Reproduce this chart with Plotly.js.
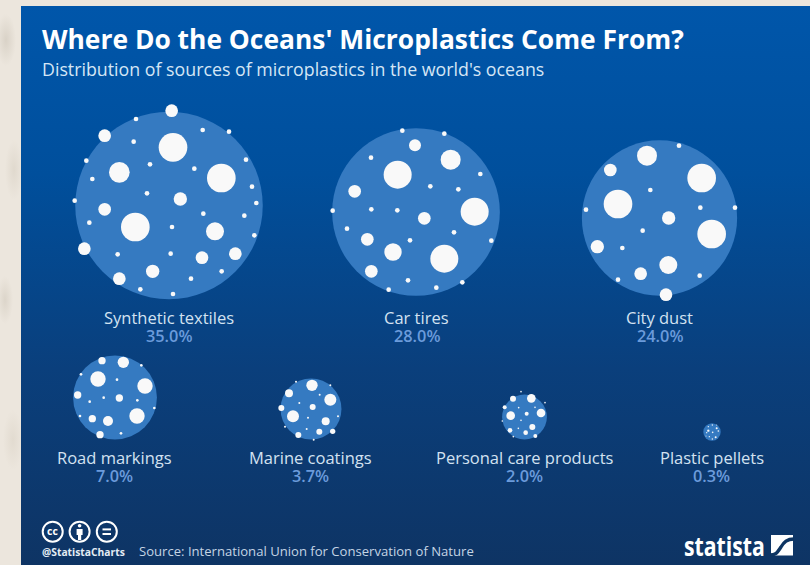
<!DOCTYPE html>
<html>
<head>
<meta charset="utf-8">
<script src="https://cdn.plot.ly/plotly-3.0.1.min.js"></script>
<style>
html,body{margin:0;padding:0;width:810px;height:565px;overflow:hidden;}
body{background-color:#ece6dd;background-image:radial-gradient(ellipse 10px 26px at 6px 40px,#d9d2c7,transparent),radial-gradient(ellipse 9px 30px at 14px 170px,#e0d9ce,transparent),radial-gradient(ellipse 8px 24px at 5px 300px,#dcd5ca,transparent),radial-gradient(ellipse 10px 30px at 13px 440px,#e2dbd0,transparent);}
#panel{position:absolute;left:21px;top:6px;width:789px;height:559px;background:linear-gradient(180deg,#0056aa 0%,#004f9c 30%,#0a3f7c 65%,#0e3464 100%);}
#chart{position:absolute;left:0;top:0;width:810px;height:565px;}
</style>
</head>
<body>
<div id="panel"></div>
<div id="chart"></div>
<script>
// ---- data ----
const categories = ["Synthetic textiles","Car tires","City dust","Road markings","Marine coatings","Personal care products","Plastic pellets"];
const shares = [35.0,28.0,24.0,7.0,3.7,2.0,0.3];
const valueLabels = ["35.0%","28.0%","24.0%","7.0%","3.7%","2.0%","0.3%"];
const bubbleX = [169,416,659.5,115,311,524.5,712];
const bubbleY = [205.5,212,218,397.5,409,417,432];
const labelX = [169,416.5,659.5,114.5,310,524.5,711.5];
const labelY = [317.3,317.3,317.3,457.3,457.3,457.3,457.3];
const valueY = [336,336,336,475.6,475.6,475.6,475.6];

// decoration dots: [x, y, diameter] at 3x, with crop origin
const dotsTextiles = [[515,332,38],[408,357,14],[314,407,38],[401,425,14],[519,442,86],[608,390,14],[687,395,14],[738,479,14],[259,482,14],[450,493,14],[358,517,62],[583,506,14],[664,534,86],[277,537,14],[756,560,14],[224,602,14],[441,580,14],[541,597,40],[769,609,14],[314,628,38],[610,641,14],[733,647,14],[268,668,14],[406,681,86],[516,681,14],[645,694,54],[763,706,14],[253,746,38],[706,761,38],[353,763,14],[512,761,14],[606,773,38],[458,814,40],[665,814,14],[358,836,38],[573,836,14],[421,868,14],[519,882,14]];
const dotsTires = [[247,47,14],[373,56,14],[285,91,36],[392,134,60],[153,128,14],[233,179,84],[481,177,14],[331,214,14],[415,223,14],[104,229,38],[464,290,84],[38,287,14],[154,283,14],[232,286,14],[313,310,38],[81,341,14],[402,352,14],[142,373,38],[270,376,14],[514,377,14],[219,411,52],[373,431,84],[154,469,38],[264,496,14],[427,502,14],[349,518,14],[206,524,14]];
const dotsDust = [[327,47,14],[231,77,60],[121,120,38],[395,144,86],[241,180,14],[144,222,86],[48,239,14],[391,233,14],[495,233,14],[296,264,40],[218,302,14],[425,312,86],[82,350,40],[157,354,14],[295,405,54],[212,431,38],[389,437,14],[144,449,14],[288,494,38]];
const dotsRoad = [[126,47,22],[190,52,34],[244,61,8],[63,88,8],[114,102,46],[171,104,8],[255,123,46],[53,150,22],[131,158,8],[178,159,22],[232,166,8],[89,170,8],[283,189,8],[231,213,46],[60,213,8],[97,221,22],[144,228,30],[183,265,8],[120,269,22]];
const dotsMarine = [[126,46,34],[78,35,6],[181,46,6],[57,70,24],[181,89,36],[149,74,6],[88,99,6],[128,111,18],[34,114,18],[69,139,36],[204,139,6],[114,143,6],[167,154,24],[45,170,6],[110,177,6],[148,185,18],[188,184,16],[85,195,18],[131,209,6]];
const dotsCare = [[93,20,5],[124,40,26],[69,41,18],[165,53,5],[44,67,12],[86,68,5],[135,67,5],[153,84,26],[62,92,26],[110,86,12],[37,108,5],[93,106,5],[127,126,18],[60,136,14],[85,130,5],[107,143,14],[136,153,12],[70,155,5]];
const dotsPellets = [[40,47,7],[65,40,6],[35,53,4],[53,52,5],[70,48,5],[62,67,6],[43,65,4],[52,72,4],[40,35,4],[52,30,4],[65,30,3],[33,63,3]];
const dotGroups = [[dotsTextiles,0,0],[dotsTires,320,115],[dotsDust,570,130],[dotsRoad,60,345],[dotsMarine,270,370],[dotsCare,490,385],[dotsPellets,695,415]];

const dotX=[],dotY=[],dotS=[];
dotGroups.forEach(([g,ox,oy])=>g.forEach(([x,y,d])=>{dotX.push(ox+x/3);dotY.push(oy+y/3);dotS.push(d/3);}));

const fontFam = '"Open Sans", sans-serif';
const traces = [
 {type:'scatter',mode:'markers',x:bubbleX,y:bubbleY,text:categories,hoverinfo:'text',
  marker:{size:shares,sizemode:'area',sizeref:2*35/(187.5*187.5),sizemin:1,color:'#357ac1',line:{width:0},opacity:1}},
 {type:'scatter',mode:'markers',x:dotX,y:dotY,hoverinfo:'skip',
  marker:{size:dotS,sizemode:'diameter',sizeref:1,color:'#f9f9f9',line:{width:0},opacity:1}}
];

const ann = [];
function T(text,x,y,size,color,anchor,weight){ann.push({text:text,x:x,y:y,xref:'x',yref:'y',showarrow:false,xanchor:anchor||'center',yanchor:'middle',font:{family:fontFam,size:size,color:color,weight:weight||400}});}
categories.forEach((c,i)=>{
  T(c,labelX[i],labelY[i],16.5,'#d3e2f1');
  T(valueLabels[i],labelX[i],valueY[i],16.3,'#6b9bdb','center',600);
});
T("Distribution of sources of microplastics in the world's oceans",40,69,17.8,'#d5e6f5','left');
T('@StatistaCharts',40,551.5,10.3,'#e4ecf4','left',700);
T('Source: International Union for Conservation of Nature',137,551,13.1,'#c4d4e4','left');
T('cc',52.7,531,10.5,'#ffffff','center',700);
T('statista',724.5,545,27,'#ffffff','center',700);

const circle=(cx,cy,r,extra)=>Object.assign({type:'circle',xref:'x',yref:'y',x0:cx-r,x1:cx+r,y0:cy-r,y1:cy+r,line:{color:'#ffffff',width:2},fillcolor:'rgba(0,0,0,0)',layer:'above'},extra||{});
const shapes=[
 circle(52.7,531.7,10),circle(79.6,531.7,10),circle(106.8,531.7,10),
 circle(79.6,525.8,1.8,{fillcolor:'#ffffff',line:{width:0}}),
 {type:'path',xref:'x',yref:'y',path:'M76.6 529 L82.6 529 L82.6 535 L81.2 535 L81.2 540 L78 540 L78 535 L76.6 535 Z',fillcolor:'#ffffff',line:{width:0},layer:'above'},
 {type:'rect',xref:'x',yref:'y',x0:102.5,x1:111,y0:528.4,y1:530.4,fillcolor:'#ffffff',line:{width:0},layer:'above'},
 {type:'rect',xref:'x',yref:'y',x0:102.5,x1:111,y0:533,y1:535,fillcolor:'#ffffff',line:{width:0},layer:'above'},
 {type:'rect',xref:'x',yref:'y',x0:771,x1:793,y0:535,y1:555.5,fillcolor:'#ffffff',line:{width:0},layer:'above'},
 {type:'path',xref:'x',yref:'y',path:'M770 555 C777 555 778 551 781 547 C784 542 787 539 794 539',fillcolor:'rgba(0,0,0,0)',line:{color:'#0d3462',width:3.4},layer:'above'}
];

const layout = {
  width:810,height:565,margin:{l:0,r:0,t:0,b:0,pad:0},
  paper_bgcolor:'rgba(0,0,0,0)',plot_bgcolor:'rgba(0,0,0,0)',
  showlegend:false,
  title:{text:"<b>Where Do the Oceans' Microplastics Come From?</b>",x:42/810,xanchor:'left',xref:'paper',y:1-40/565,yref:'paper',yanchor:'middle',font:{family:fontFam,size:26.4,color:'#ffffff'}},
  xaxis:{range:[0,810],visible:false,fixedrange:true},
  yaxis:{range:[565,0],visible:false,fixedrange:true},
  annotations:ann,shapes:shapes
};
Plotly.newPlot('chart',traces,layout,{displayModeBar:false}).then(()=>{
  document.querySelectorAll('.annotation-text').forEach(el=>{
    if(el.textContent==='statista'){el.setAttribute('textLength','81');el.setAttribute('lengthAdjust','spacingAndGlyphs');}
  });
});
</script>
</body>
</html>
